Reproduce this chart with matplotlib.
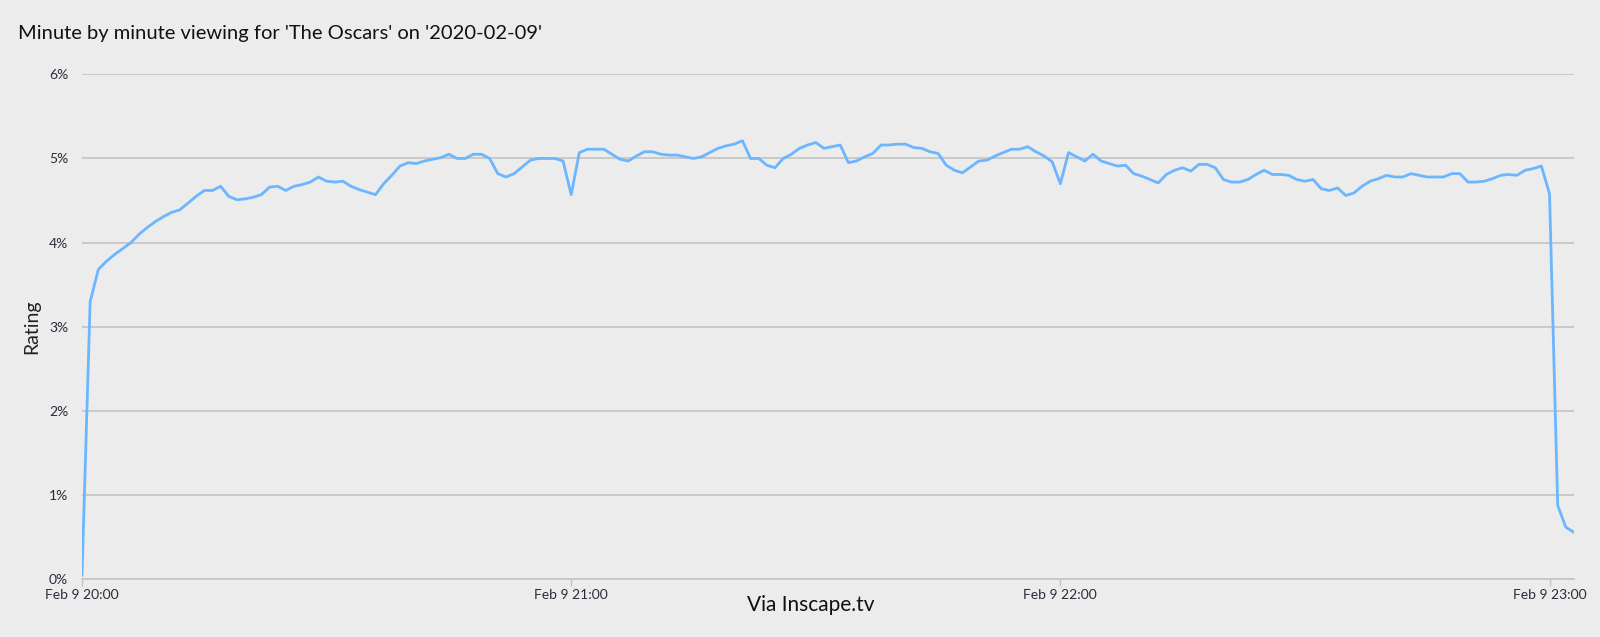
import matplotlib
matplotlib.use("Agg")
import matplotlib.pyplot as plt
import matplotlib.dates as mdates
from matplotlib.ticker import FuncFormatter
import pandas as pd

# minute by minute rating (%), starting Feb 9 2020 20:00
start_time = "2020-02-09 20:00"
ratings = [
    0.05, 3.30, 3.68, 3.78, 3.86, 3.93, 4.00, 4.10, 4.18, 4.25,
    4.31, 4.36, 4.39, 4.47, 4.55, 4.62, 4.62, 4.67, 4.55, 4.51,
    4.52, 4.54, 4.57, 4.66, 4.67, 4.62, 4.67, 4.69, 4.72, 4.78,
    4.73, 4.72, 4.73, 4.67, 4.63, 4.60, 4.57, 4.70, 4.80, 4.91,
    4.95, 4.94, 4.97, 4.99, 5.01, 5.05, 5.00, 5.00, 5.05, 5.05,
    5.00, 4.82, 4.78, 4.82, 4.90, 4.98, 5.00, 5.00, 5.00, 4.97,
    4.57, 5.07, 5.11, 5.11, 5.11, 5.05, 4.99, 4.97, 5.03, 5.08,
    5.08, 5.05, 5.04, 5.04, 5.02, 5.00, 5.02, 5.07, 5.12, 5.15,
    5.17, 5.21, 5.00, 5.00, 4.92, 4.89, 5.00, 5.05, 5.12, 5.16,
    5.19, 5.12, 5.14, 5.16, 4.95, 4.97, 5.02, 5.06, 5.16, 5.16,
    5.17, 5.17, 5.13, 5.12, 5.08, 5.06, 4.92, 4.86, 4.83, 4.90,
    4.97, 4.98, 5.03, 5.07, 5.11, 5.11, 5.14, 5.08, 5.03, 4.96,
    4.70, 5.07, 5.02, 4.97, 5.05, 4.97, 4.94, 4.91, 4.92, 4.82,
    4.79, 4.75, 4.71, 4.81, 4.86, 4.89, 4.85, 4.93, 4.93, 4.89,
    4.75, 4.72, 4.72, 4.75, 4.81, 4.86, 4.81, 4.81, 4.80, 4.75,
    4.73, 4.75, 4.64, 4.62, 4.65, 4.56, 4.59, 4.67, 4.73, 4.76,
    4.80, 4.78, 4.78, 4.82, 4.80, 4.78, 4.78, 4.78, 4.82, 4.82,
    4.72, 4.72, 4.73, 4.76, 4.80, 4.81, 4.80, 4.86, 4.88, 4.91,
    4.58, 0.88, 0.62, 0.56,
]
y_ticks = [0, 1, 2, 3, 4, 5, 6]

title = "Minute by minute viewing for 'The Oscars' on '2020-02-09'"
source = "Via Inscape.tv"

bg = "#ececec"
line_color = "#6cb6ff"
grid_color = "#c4c4c4"
label_color = "#2b2b3a"

plt.rcParams["font.family"] = ["Lato", "DejaVu Sans"]

times = pd.date_range(start_time, periods=len(ratings), freq="min")

fig = plt.figure(figsize=(16, 6.37), dpi=100, facecolor=bg)
ax = fig.add_axes([0.05125, 0.0903, 0.9325, 0.7931])
ax.set_facecolor(bg)

ax.plot(times, ratings, color=line_color, linewidth=2.0, zorder=3)

ax.set_xlim(times[0], times[-1])
ax.set_ylim(0, 6)
ax.set_yticks(y_ticks)
ax.yaxis.set_major_formatter(FuncFormatter(lambda v, p: f"{v:.0f}%"))
ax.grid(axis="y", color=grid_color, linewidth=1.2)
ax.set_axisbelow(True)

ax.xaxis.set_major_locator(mdates.HourLocator())
ax.xaxis.set_major_formatter(mdates.DateFormatter("%b %-d %H:%M"))

for side in ["top", "right", "left"]:
    ax.spines[side].set_visible(False)
ax.spines["bottom"].set_color(grid_color)
ax.spines["bottom"].set_linewidth(1.2)

ax.tick_params(axis="y", length=0, pad=10, labelsize=10, labelcolor=label_color)
ax.tick_params(axis="x", length=5, width=1, color=grid_color, pad=2,
               labelsize=10, labelcolor=label_color)

ax.set_ylabel("Rating", fontsize=14, color="#222222", labelpad=6)
fig.text(0.507, 0.05, source, ha="center", va="center", fontsize=15, color="#111111")
fig.text(0.0115, 0.948, title, ha="left", va="center", fontsize=14.5, color="#111111")

fig.savefig("out.png", dpi=100, facecolor=bg)
